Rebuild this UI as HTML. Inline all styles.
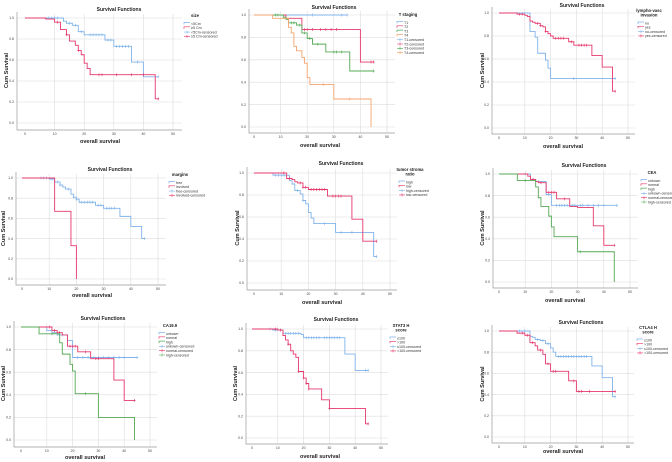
<!DOCTYPE html>
<html><head><meta charset="utf-8"><style>
body{margin:0;background:#fff;width:672px;height:462px;overflow:hidden;font-family:"Liberation Sans",sans-serif}
svg{display:block}
</style></head><body>
<svg id="c" width="672" height="462" viewBox="0 0 672 462"></svg>
<script>
const BLUE="#80b3ea",RED="#e6386c",GREEN="#55a855",ORANGE="#f4a36c";
// panel 1: size
const size_lt5_t=[0,13,14,16,18,20,27,30,36,40], size_lt5_s=[1,0.97,0.95,0.93,0.87,0.84,0.79,0.73,0.58,0.44], size_lt5_c=[8,9,10,11,15,17,19,22,23,24,25,26,28,29,31,32,33,34,35,38,45];
const size_ge5_t=[0,7,10,12,14,15,17,18,19,20,21,22,44], size_ge5_s=[1,0.99,0.96,0.89,0.84,0.78,0.74,0.69,0.65,0.57,0.52,0.46,0.23], size_ge5_c=[11,14,18,25,26,31,36,40,45];
// panel 2: T staging
const t1_t=[0], t1_s=[1], t1_c=[8,22,33,35];
const t2_t=[0,12,18,40], t2_s=[1,0.97,0.87,0.58], t2_c=[19,20,22,25,27,29,31,44,45];
const t3_t=[0,11,12,13,16,18,20,22,27,36], t3_s=[1,0.98,0.96,0.93,0.91,0.84,0.79,0.74,0.67,0.5], t3_c=[8,9,14,15,17,19,21,24,30,31,33,45];
const t4_t=[0,7,13,14,15,16,18,19,20,21,30,44], t4_s=[1,0.97,0.89,0.84,0.72,0.68,0.62,0.57,0.44,0.38,0.25,0], t4_c=[26,36];
// panel 3: lympho-vasc invasion
const lvi_no_t=[0,12,14,15,18,19,20], lvi_no_s=[1,0.84,0.79,0.65,0.59,0.52,0.43], lvi_no_c=[29,45];
const lvi_yes_t=[0,7,10,11,12,13,14,16,17,18,19,20,21,27,29,36,40,44], lvi_yes_s=[1,0.99,0.98,0.97,0.93,0.92,0.91,0.89,0.88,0.84,0.82,0.8,0.78,0.75,0.72,0.63,0.53,0.32], lvi_yes_c=[8,9,15,16,18,22,23,24,25,28,31,32,33,34,45];
// panel 4: margins
const mfree_t=[0,10,12,14,15,16,18,19,20,21,27,30,36,40,44], mfree_s=[1,0.99,0.96,0.93,0.91,0.89,0.84,0.81,0.79,0.76,0.73,0.7,0.62,0.52,0.4], mfree_c=[7,8,9,11,13,14,17,19,20,22,23,24,25,26,28,29,31,32,33,34,45];
const minv_t=[0,12,18,20], minv_s=[1,0.67,0.33,0], minv_c=[];
// panel 5: tumor stroma ratio
const tsr_hi_t=[0,7,13,14,15,17,18,19,20,21,22,30,44], tsr_hi_s=[1,0.98,0.93,0.9,0.84,0.81,0.75,0.72,0.64,0.59,0.54,0.46,0.24], tsr_hi_c=[8,9,10,11,16,18,26,32,36,45];
const tsr_lo_t=[0,12,14,15,16,18,20,27,36,40], tsr_lo_s=[1,0.95,0.94,0.92,0.91,0.87,0.85,0.79,0.58,0.38], tsr_lo_c=[11,13,17,18,19,21,22,23,24,25,26,29,30,31,32,45];
// panel 6: CEA
const cea_unk_t=[0,12,14,18,20], cea_unk_s=[1,0.95,0.93,0.81,0.71], cea_unk_c=[10,13,15,19,22,23,24,25,26,28,29,31,32,34,36,38,40,45];
const cea_nor_t=[0,11,12,14,15,18,22,27,30,36,40], cea_nor_s=[1,0.98,0.95,0.93,0.92,0.83,0.77,0.7,0.69,0.52,0.34], cea_nor_c=[13,16,19,20,21,25,44];
const cea_hi_t=[0,7,14,15,16,19,20,21,30,44], cea_hi_s=[1,0.94,0.88,0.78,0.7,0.61,0.51,0.42,0.28,0], cea_hi_c=[10,31];
// panel 7: CA19.9
const ca_unk_t=[0,10,12,14,18,20], ca_unk_s=[1,0.97,0.95,0.93,0.88,0.73], ca_unk_c=[13,15,16,22,24,26,28,30,32,34,36,38,40,45];
const ca_nor_t=[0,12,14,16,18,22,27,36,40], ca_nor_s=[1,0.97,0.95,0.93,0.83,0.78,0.72,0.53,0.35], ca_nor_c=[11,13,15,19,20,21,25,29,30,44];
const ca_hi_t=[0,7,15,16,19,20,21,30,44], ca_hi_s=[1,0.94,0.86,0.76,0.67,0.61,0.41,0.2,0], ca_hi_c=[12,25];
// panel 8: STAT3
const st_lo_t=[0,8,12,19,20,36,40], st_lo_s=[1,0.99,0.96,0.95,0.92,0.77,0.62], st_lo_c=[7,9,11,13,14,15,16,17,18,21,22,23,24,25,26,28,29,30,31,32,33,34,44,45];
const st_hi_t=[0,10,12,13,14,15,16,17,18,20,21,22,27,30,44], st_hi_s=[1,0.99,0.94,0.9,0.86,0.8,0.77,0.74,0.61,0.55,0.5,0.45,0.35,0.27,0.13], st_hi_c=[9,11,14,18,20,21,22,30,45];
// panel 9: CTLA4
const ct_lo_t=[0,12,13,14,16,18,20,21,22,36,40,44], ct_lo_s=[1,0.95,0.94,0.92,0.91,0.88,0.84,0.8,0.76,0.67,0.56,0.38], ct_lo_c=[8,10,15,17,19,23,24,25,26,27,28,29,30,31,32,33,34,45];
const ct_hi_t=[0,7,10,12,14,15,17,18,20,27,30], ct_hi_s=[1,0.98,0.96,0.89,0.86,0.82,0.78,0.69,0.62,0.53,0.43], ct_hi_c=[9,11,13,16,19,21,22,29,31,32,35,45];

const xTicks=[0,10,20,30,50,40].sort((a,b)=>a-b);
const yTicks=[0,0.2,0.4,0.6,0.8,1.0];

const panels=[
 {name:"size",x0:25,x50:173,y1:18,y0:123,fl:17,fb:130,fr:182,tx:119,ty:9,yl:5,xl:100,xly:143,lx:183,lty:17,title:["size"],
  series:[["<5Cm",BLUE,size_lt5_t,size_lt5_s,size_lt5_c],["≥5 Cm",RED,size_ge5_t,size_ge5_s,size_ge5_c]]},
 {name:"t-staging",x0:254,x50:387,y1:15,y0:127,fl:249,fb:133,fr:395,tx:334,ty:7,yl:null,xl:320,xly:147,lx:396,lty:16,title:["T staging"],
  series:[["T1",BLUE,t1_t,t1_s,t1_c],["T2",RED,t2_t,t2_s,t2_c],["T3",GREEN,t3_t,t3_s,t3_c],["T4",ORANGE,t4_t,t4_s,t4_c]],endX:[35,45,45,44]},
 {name:"lympho-vasc",x0:499,x50:628,y1:13,y0:128,fl:492,fb:134,fr:635,tx:582,ty:5,yl:481,xl:563,xly:148,lx:637,lty:12,title:["lympho-vasc","invasion"],
  series:[["no",BLUE,lvi_no_t,lvi_no_s,lvi_no_c],["yes",RED,lvi_yes_t,lvi_yes_s,lvi_yes_c]]},
 {name:"margins",x0:22,x50:158,y1:178,y0:279,fl:16,fb:285,fr:166,tx:110,ty:169,yl:2,xl:92,xly:297,lx:168,lty:176,title:["margins"],
  series:[["free",BLUE,mfree_t,mfree_s,mfree_c],["involved",RED,minv_t,minv_s,minv_c]],endX:[45,20]},
 {name:"tumor-stroma",x0:254,x50:390,y1:173,y0:283,fl:247,fb:290,fr:397,tx:341,ty:163,yl:236,xl:322,xly:304,lx:398,lty:171,title:["tumor stroma","ratio"],
  series:[["high",BLUE,tsr_hi_t,tsr_hi_s,tsr_hi_c],["low",RED,tsr_lo_t,tsr_lo_s,tsr_lo_c]]},
 {name:"cea",x0:499,x50:630,y1:174,y0:282,fl:493,fb:288,fr:638,tx:584,ty:165,yl:481,xl:565,xly:302,lx:640,lty:174,title:["CEA"],
  series:[["unkown",BLUE,cea_unk_t,cea_unk_s,cea_unk_c],["normal",RED,cea_nor_t,cea_nor_s,cea_nor_c],["high",GREEN,cea_hi_t,cea_hi_s,cea_hi_c]],endX:[45,44,44]},
 {name:"ca199",x0:21,x50:150,y1:327,y0:440,fl:14,fb:447,fr:157,tx:103,ty:318,yl:2,xl:85,xly:459,lx:158,lty:327,title:["CA19.9"],
  series:[["unkown",BLUE,ca_unk_t,ca_unk_s,ca_unk_c],["normal",RED,ca_nor_t,ca_nor_s,ca_nor_c],["high",GREEN,ca_hi_t,ca_hi_s,ca_hi_c]],endX:[45,44,44]},
 {name:"stat3",x0:252,x50:381,y1:329,y0:438,fl:246,fb:444,fr:388,tx:336,ty:319,yl:234,xl:320,xly:458,lx:389,lty:327,title:["STAT3 H","score"],
  series:[["≤100",BLUE,st_lo_t,st_lo_s,st_lo_c],[">100",RED,st_hi_t,st_hi_s,st_hi_c]]},
 {name:"ctla4",x0:499,x50:628,y1:331,y0:437,fl:492,fb:443,fr:634,tx:581,ty:322,yl:481,xl:563,xly:453,lx:636,lty:329,title:["CTLA4 H","score"],
  series:[["≤100",BLUE,ct_lo_t,ct_lo_s,ct_lo_c],[">100",RED,ct_hi_t,ct_hi_s,ct_hi_c]]}
];
const NS="http://www.w3.org/2000/svg";
const svg=document.getElementById('c');
function mk(tag,attrs,parent,txt){const e=document.createElementNS(NS,tag);for(const k in attrs)e.setAttribute(k,attrs[k]);if(txt!==undefined)e.textContent=txt;parent.appendChild(e);return e;}
function survAt(t,s,x){let v=s[0];for(let i=0;i<t.length;i++){if(t[i]<=x)v=s[i];}return v;}
panels.forEach((p,pi)=>{
 const g=mk('g',{},svg);
 
 
 const X=v=>p.x0+(p.x50-p.x0)*v/50, Y=v=>p.y0+(p.y1-p.y0)*v;
 const grid=mk('g',{stroke:'#dcdcdc','stroke-width':0.6},g);
 
 
 xTicks.forEach(v=>{if(v>0)mk('line',{x1:X(v),x2:X(v),y1:p.y1-4,y2:p.fb},grid);});
 yTicks.forEach(v=>mk('line',{x1:p.fl,x2:p.fr,y1:Y(v),y2:Y(v)},grid));
 const ax=mk('path',{d:`M${p.fl},${p.y1-6}V${p.fb}H${p.fr}`,stroke:'#9a9a9a','stroke-width':0.7,fill:'none'},g);
 
 
 xTicks.forEach(v=>{const t=mk('text',{x:X(v),y:p.fb+5,'font-size':3.5,'text-anchor':'middle',fill:'#444'},g,String(v));
  
  });
 yTicks.forEach(v=>{const t=mk('text',{x:p.fl-3,y:Y(v)+1.2,'font-size':3.5,'text-anchor':'end',fill:'#444'},g,v.toFixed(1));
  
  });
 const ti=mk('text',{x:p.tx,y:p.ty+2,'font-size':5,'font-weight':'bold','text-anchor':'middle',fill:'#222'},g,'Survival Functions');
 
 
 const xl=mk('text',{x:p.xl,y:p.xly,'font-size':5.5,'font-weight':'bold','text-anchor':'middle',fill:'#222'},g,'overall survival');
 
 
 if(p.yl!==null){const yc=(p.y1+p.y0)/2;
  const yl=mk('text',{x:p.yl+3,y:yc,'font-size':5.5,'font-weight':'bold','text-anchor':'middle',fill:'#222',transform:`rotate(-90 ${p.yl+3} ${yc})`},g,'Cum Survival');
  
  }
 // series
 p.series.forEach((s,si)=>{
  const [lab,col,t,sv,cs]=s;
  const end=p.endX?p.endX[si]:45;
  let d=`M${X(0)},${Y(sv[0])}`;
  for(let i=1;i<t.length;i++){d+=`H${X(t[i])}V${Y(sv[i])}`;}
  if(end>t[t.length-1])d+=`H${X(end)}`;
  const pa=mk('path',{d:d,stroke:col,'stroke-width':0.9,fill:'none'},g);
  
  
  cs.forEach(c=>{const yy=Y(survAt(t,sv,c));
   const m=mk('path',{d:`M${X(c)},${yy-1.5}V${yy+1.5}M${X(c)-1},${yy}H${X(c)+1}`,stroke:col,'stroke-width':0.6},g);
   
   });
 });
 // legend
 const lg=mk('g',{},g);
 
 
 p.title.forEach((tl,i)=>{mk('text',{x:p.lx+12,y:p.lty+i*4.5,'font-size':4.2,'font-weight':'bold','text-anchor':'middle',fill:'#222'},lg,tl);});
 let ly=p.lty+p.title.length*4.5+2;
 const entries=[];
 p.series.forEach(s=>entries.push([s[0],s[1],false]));
 p.series.forEach(s=>entries.push([s[0]+'-censored',s[1],true]));
 entries.forEach((e,i)=>{const yy=ly+i*4.3;
  const it=mk('g',{},lg);
  
  
  if(e[2])mk('path',{d:`M${p.lx+1},${yy}H${p.lx+7}M${p.lx+4},${yy-1.5}V${yy+1.5}`,stroke:e[1],'stroke-width':0.6},it);
  else mk('path',{d:`M${p.lx+1},${yy+1}V${yy-1}H${p.lx+7}`,stroke:e[1],'stroke-width':0.7,fill:'none'},it);
  mk('text',{x:p.lx+8,y:yy+1.3,'font-size':3.6,fill:'#333'},it,e[0]);});
});
</script>
</body></html>
